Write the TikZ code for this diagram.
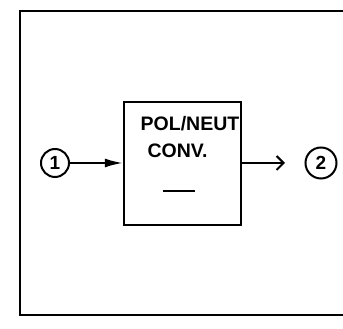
\documentclass[tikz,border=0pt]{standalone}
\usepackage{fontspec}
\setmainfont{Liberation Sans}
\usetikzlibrary{arrows.meta}
\tikzset{
  port/.style={draw,circle,line width=2pt,minimum size=28pt,inner sep=0pt,font=\fontsize{19}{19}\selectfont\bfseries},
  convbox/.style={draw,line width=2.4pt,minimum width=117pt,minimum height=123pt},
  boxtext/.style={inner sep=0pt,font=\fontsize{19.5}{19.5}\selectfont\bfseries}
}
\begin{document}
\begin{tikzpicture}[x=1pt,y=1pt]
\useasboundingbox (0,0) rectangle (343,329);
\draw[line width=2.4pt] (343,318) -- (20,318) -- (20,14) -- (343,14);

\node[convbox] (conv) at (182.5,165.5) {};
\node[boxtext] (t1) at (190,205.5) {POL/NEUT};
\node[boxtext] (t2) at (177.5,178) {CONV.};
\coordinate (dl) at (163,138);
\coordinate (dr) at (195,138);
\draw[line width=2.2pt] (dl)--(dr);

\node[port] (p1) at (55,166) {1};
\node[port,minimum size=31pt] (p2) at (321,166) {2};
\coordinate (out) at (285,166);

\draw[line width=2pt,-{Latex[length=18pt,width=9pt]}] (p1)--(p1 -| conv.west);
\draw[line width=2pt,-{Straight Barb[length=7pt,width=14pt]}] (p2 -| conv.east)--(out);
\end{tikzpicture}
\end{document}
